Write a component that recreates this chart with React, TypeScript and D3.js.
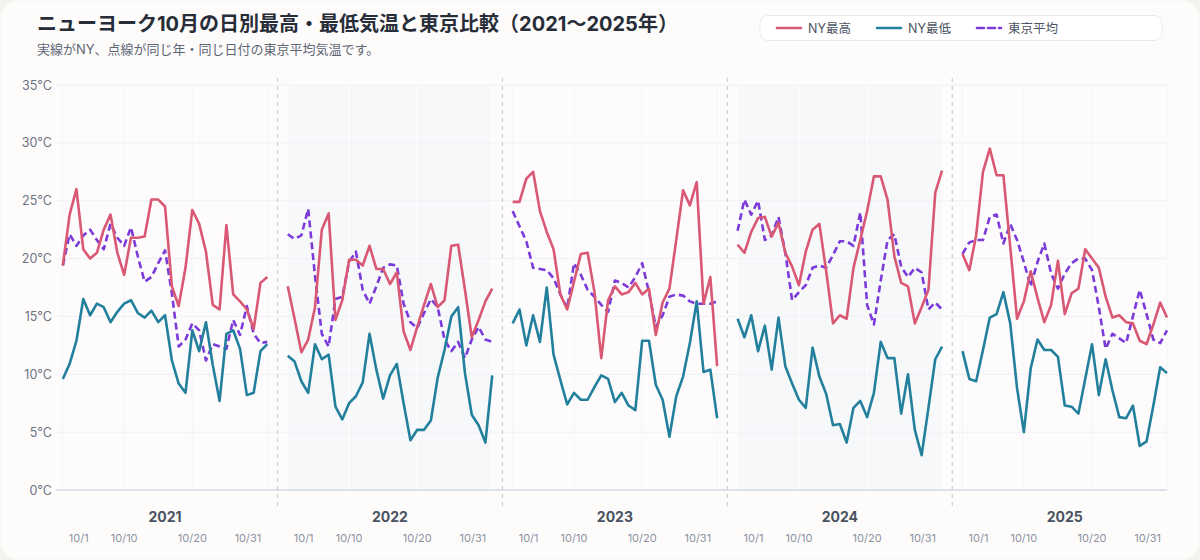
import * as d3 from "d3";

const W = 1200;
const H = 560;

const years = [2021, 2022, 2023, 2024, 2025];
const dayTicks = [1, 10, 20, 31];
const yTicks = [0, 5, 10, 15, 20, 25, 30, 35];

// daily values for Oct 1..31 (°C)
const high2021 = [19.4, 23.8, 26.0, 20.8, 20.0, 20.5, 22.5, 23.8, 20.5, 18.6, 21.8, 21.8, 21.9, 25.1, 25.1, 24.5, 17.6, 15.9, 19.2, 24.2, 23.0, 20.6, 16.0, 15.6, 22.9, 16.9, 16.3, 15.6, 13.9, 17.9, 18.4];
const low2021 = [9.6, 10.9, 12.9, 16.5, 15.1, 16.1, 15.8, 14.5, 15.4, 16.1, 16.4, 15.3, 14.9, 15.5, 14.5, 15.1, 11.2, 9.2, 8.4, 13.8, 12.0, 14.5, 10.8, 7.7, 13.5, 13.8, 12.2, 8.2, 8.4, 12.0, 12.6];
const tokyo2021 = [19.4, 22.1, 21.1, 22.0, 22.5, 21.6, 20.8, 23.0, 21.8, 21.1, 22.7, 20.2, 18.0, 18.4, 19.6, 20.7, 17.0, 12.4, 13.0, 14.4, 13.8, 11.2, 12.6, 12.4, 12.2, 14.7, 13.4, 15.9, 13.5, 12.7, 12.8];

const high2022 = [17.6, 14.8, 11.9, 13.0, 15.8, 22.5, 23.9, 14.7, 16.4, 19.9, 19.9, 19.4, 21.1, 19.1, 19.1, 17.8, 18.8, 13.7, 12.1, 14.1, 16.0, 17.8, 15.8, 16.4, 21.1, 21.2, 17.3, 13.2, 14.7, 16.3, 17.4];
const low2022 = [11.6, 11.1, 9.4, 8.4, 12.6, 11.3, 11.7, 7.2, 6.1, 7.5, 8.1, 9.3, 13.5, 10.4, 7.9, 9.9, 10.9, 7.5, 4.3, 5.2, 5.2, 6.0, 9.7, 12.1, 15.0, 15.8, 10.1, 6.5, 5.6, 4.1, 9.9];
const tokyo2022 = [22.1, 21.7, 22.0, 24.3, 18.5, 13.5, 12.4, 16.5, 16.7, 19.7, 20.6, 17.3, 16.1, 17.6, 19.2, 19.5, 19.4, 16.1, 14.5, 14.0, 15.3, 16.5, 15.8, 13.0, 12.0, 12.8, 11.4, 13.0, 14.1, 13.0, 12.8];

const high2023 = [24.9, 24.9, 26.9, 27.5, 24.1, 22.3, 20.8, 16.9, 15.6, 18.0, 20.4, 20.5, 17.1, 11.4, 16.4, 17.6, 16.9, 17.1, 17.9, 16.9, 17.4, 13.4, 16.2, 17.4, 21.6, 25.9, 24.6, 26.6, 16.1, 18.4, 10.7];
const low2023 = [14.4, 15.6, 12.5, 15.1, 12.8, 17.5, 11.7, 9.5, 7.4, 8.4, 7.8, 7.8, 8.9, 9.9, 9.6, 7.6, 8.4, 7.3, 6.9, 12.9, 12.9, 9.1, 7.8, 4.6, 8.1, 9.8, 12.7, 16.3, 10.2, 10.4, 6.2];
const tokyo2023 = [24.1, 22.8, 21.5, 19.2, 19.1, 19.0, 18.3, 16.9, 15.7, 19.6, 18.6, 17.3, 16.7, 16.0, 15.4, 18.1, 17.9, 17.5, 18.4, 19.6, 17.1, 14.1, 15.1, 16.7, 16.9, 16.8, 16.3, 16.1, 16.1, 16.1, 16.3];

const high2024 = [21.2, 20.5, 22.3, 23.5, 23.6, 21.9, 23.1, 20.5, 19.3, 17.7, 20.6, 22.5, 23.0, 18.9, 14.4, 15.1, 14.8, 19.2, 21.6, 24.1, 27.1, 27.1, 25.1, 20.2, 17.9, 17.6, 14.4, 15.8, 17.3, 25.7, 27.6];
const low2024 = [14.8, 13.2, 15.1, 12.0, 14.2, 10.4, 14.9, 10.7, 9.2, 7.8, 7.1, 12.3, 9.8, 8.3, 5.6, 5.7, 4.1, 7.1, 7.7, 6.3, 8.4, 12.8, 11.4, 11.4, 6.6, 10.0, 5.2, 3.0, 7.1, 11.3, 12.4];
const tokyo2024 = [22.4, 25.1, 23.8, 25.0, 21.6, 22.0, 23.6, 20.5, 16.4, 17.1, 17.7, 19.2, 19.4, 19.2, 20.3, 21.5, 21.5, 21.1, 24.0, 16.0, 14.3, 18.1, 21.6, 22.1, 19.3, 18.4, 19.2, 18.8, 15.6, 16.2, 15.6];

const high2025 = [20.4, 19.0, 22.0, 27.5, 29.5, 27.2, 27.2, 21.0, 14.8, 16.3, 18.9, 16.6, 14.5, 16.0, 19.8, 15.2, 17.0, 17.4, 20.8, 20.0, 19.2, 16.7, 14.9, 15.1, 14.5, 14.4, 12.9, 12.6, 14.3, 16.2, 14.9];
const low2025 = [12.0, 9.6, 9.4, 12.1, 14.9, 15.2, 17.1, 14.4, 8.8, 5.0, 10.5, 13.0, 12.1, 12.1, 11.5, 7.3, 7.2, 6.6, 9.6, 12.6, 8.2, 11.3, 8.6, 6.3, 6.2, 7.3, 3.8, 4.2, 7.3, 10.6, 10.1];
const tokyo2025 = [20.4, 21.4, 21.6, 21.6, 23.6, 23.8, 21.3, 23.0, 21.6, 19.7, 17.6, 19.7, 21.3, 18.7, 17.4, 18.7, 19.6, 20.0, 20.0, 19.0, 15.8, 12.2, 13.5, 13.1, 12.7, 15.0, 17.3, 15.2, 13.0, 12.7, 13.8];

const highs = [high2021, high2022, high2023, high2024, high2025];
const lows = [low2021, low2022, low2023, low2024, low2025];
const tokyos = [tokyo2021, tokyo2022, tokyo2023, tokyo2024, tokyo2025];

const COLOR_HIGH = "#d95873";
const COLOR_LOW = "#23809c";
const COLOR_TOKYO = "#7b3ad9";
const FONT = "Inter, 'Noto Sans CJK JP', 'Noto Sans', sans-serif";

// each October takes 31 slots, plus a 2-slot gap between years
const SLOT = 33;
const idx = (yi: number, day: number) => yi * SLOT + (day - 1);

const left = 56;
const right = 1167;
const top = 85;
const bottom = 490;

const x = d3.scaleLinear().domain([-1, idx(4, 31)]).range([left, right]);
const y = d3.scaleLinear().domain([0, 35]).range([bottom, top]);

const seriesPath = (yi: number, vals: number[]) =>
  d3
    .line<number>()
    .x((_, i) => x(idx(yi, i + 1)))
    .y((d) => y(d))(vals) || "";

export default function App() {
  return (
    <div>
      <style>{"body{margin:0;background:#f4f2ef}"}</style>
      <svg width={W} height={H} style={{ display: "block", fontFamily: FONT }}>
        <rect x={0} y={0} width={W} height={H} fill="#f4f2ef" />
        <rect x={0.5} y={0.5} width={W - 1} height={H - 1} rx={18} fill="#fdfcfb" />

        {/* title */}
        <text x={37} y={31} fontSize={20} fontWeight={700} fill="#272d38">
          ニューヨーク10月の日別最高・最低気温と東京比較（2021〜2025年）
        </text>
        <text x={37} y={54} fontSize={13} fill="#5d6675">
          実線がNY、点線が同じ年・同じ日付の東京平均気温です。
        </text>

        {/* legend */}
        <g>
          <rect x={760} y={15.5} width={402} height={25} rx={8} fill="#ffffff" stroke="#e6eaf0" />
          <line x1={777} x2={801} y1={28} y2={28} stroke={COLOR_HIGH} strokeWidth={2.6} strokeLinecap="round" />
          <text x={808} y={32.5} fontSize={12.5} fill="#4b5563">NY最高</text>
          <line x1={877} x2={901} y1={28} y2={28} stroke={COLOR_LOW} strokeWidth={2.6} strokeLinecap="round" />
          <text x={908} y={32.5} fontSize={12.5} fill="#4b5563">NY最低</text>
          <line x1={977} x2={1001} y1={28} y2={28} stroke={COLOR_TOKYO} strokeWidth={2.6} strokeDasharray="7,4" strokeLinecap="round" />
          <text x={1008} y={32.5} fontSize={12.5} fill="#4b5563">東京平均</text>
        </g>

        {/* plot background */}
        <rect x={left} y={top} width={right - left} height={bottom - top} fill="#fdfbfc" />
        {years.map((yr, yi) =>
          yi % 2 === 1 ? (
            <rect
              key={"bg" + yr}
              x={x(idx(yi, 1))}
              y={top}
              width={x(idx(yi, 31)) - x(idx(yi, 1))}
              height={bottom - top}
              fill="#f7f8fa"
            />
          ) : null
        )}

        {/* grid */}
        {yTicks.map((t) => (
          <line key={"gy" + t} x1={left} x2={right} y1={y(t)} y2={y(t)} stroke="#eef0f4" strokeWidth={1} />
        ))}
        {years.map((yr, yi) =>
          dayTicks.map((d) => (
            <line
              key={"gx" + yr + d}
              x1={x(idx(yi, d))}
              x2={x(idx(yi, d))}
              y1={top}
              y2={bottom}
              stroke={yi % 2 === 1 ? "#ffffff" : "#f5f5f8"}
              strokeWidth={1}
            />
          ))
        )}

        {/* year separators */}
        {years.slice(1).map((yr, i) => {
          const sx = x(idx(i + 1, 1) - 1.5);
          return (
            <line key={"sep" + yr} x1={sx} x2={sx} y1={78} y2={508} stroke="#c8d1dd" strokeWidth={1.2} strokeDasharray="4,4" />
          );
        })}

        {/* zero axis */}
        <line x1={left} x2={right} y1={bottom} y2={bottom} stroke="#d6dce5" strokeWidth={1.5} />

        {/* y labels */}
        {yTicks.map((t) => (
          <text key={"yl" + t} x={52} y={y(t) + 4.5} fontSize={12.5} textAnchor="end" fill="#6b7280">
            {t}℃
          </text>
        ))}

        {/* x labels */}
        {years.map((yr, yi) => (
          <g key={"xl" + yr}>
            <text x={x(idx(yi, 16))} y={522} fontSize={14} fontWeight={700} textAnchor="middle" fill="#4a5261">
              {yr}
            </text>
            {dayTicks.map((d) => {
              const px = x(idx(yi, d));
              const anchor = d === 1 ? "start" : d === 31 ? "end" : "middle";
              const off = d === 1 ? 6 : d === 31 ? -6 : 0;
              return (
                <text key={d} x={px + off} y={542} fontSize={11} textAnchor={anchor} fill="#8b93a3">
                  {"10/" + d}
                </text>
              );
            })}
          </g>
        ))}

        {/* series */}
        {years.map((yr, yi) => (
          <g key={"s" + yr} fill="none" strokeWidth={2.6} strokeLinejoin="round">
            <path d={seriesPath(yi, tokyos[yi])} stroke={COLOR_TOKYO} strokeDasharray="7,4" />
            <path d={seriesPath(yi, lows[yi])} stroke={COLOR_LOW} />
            <path d={seriesPath(yi, highs[yi])} stroke={COLOR_HIGH} />
          </g>
        ))}
      </svg>
    </div>
  );
}
